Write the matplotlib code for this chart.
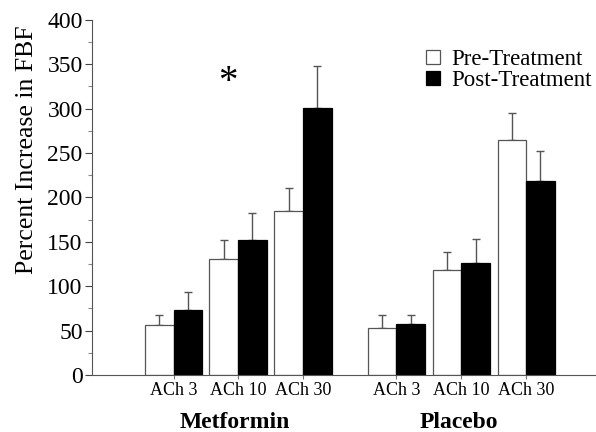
# grouped bar chart: percent increase in FBF, pre vs post treatment
import matplotlib.pyplot as plt
import numpy as np

plt.rcParams['font.family'] = ['Liberation Serif', 'DejaVu Serif']

doses = ['ACh 3', 'ACh 10', 'ACh 30']
groups = ['Metformin', 'Placebo']
pre = np.array([56, 131, 185, 53, 118, 265])
pre_err = np.array([12, 21, 26, 14, 21, 30])
post = np.array([73, 152, 301, 57, 126, 218])
post_err = np.array([21, 30, 47, 11, 27, 34])

# pair centres in bar-width units
centers = np.array([2.84, 5.09, 7.36, 10.62, 12.89, 15.16])
w = 1.0

fig = plt.figure(figsize=(5.96, 4.32), dpi=100)
ax = fig.add_axes([0.155, 0.132, 0.845, 0.822])

ax.bar(centers - w / 2, pre, w, color='white', edgecolor='#555555', linewidth=0.9,
       label='Pre-Treatment', zorder=2)
ax.bar(centers + w / 2, post, w, color='black', edgecolor='black', linewidth=0.9,
       label='Post-Treatment', zorder=2)
ax.errorbar(centers - w / 2, pre, yerr=[np.zeros_like(pre_err), pre_err], fmt='none',
            ecolor='#555555', elinewidth=1, capsize=3, capthick=1, zorder=1)
ax.errorbar(centers + w / 2, post, yerr=[np.zeros_like(post_err), post_err], fmt='none',
            ecolor='#555555', elinewidth=1, capsize=3, capthick=1, zorder=1)

ax.set_xlim(0, 17.6)
ax.set_ylim(0, 400)
ax.set_yticks(np.arange(0, 401, 50))
ax.set_yticks(np.arange(25, 400, 50), minor=True)
ax.tick_params(axis='y', labelsize=17, length=5, width=0.8, colors='#444444', labelcolor='black',
               pad=2)
ax.tick_params(axis='y', which='minor', length=3, width=0.8, colors='#888888')
ax.set_xticks(centers)
ax.set_xticklabels(doses * 2, fontsize=13)
ax.tick_params(axis='x', length=3, width=0.8, colors='#777777', labelcolor='black', pad=2)

for s in ['top', 'right']:
    ax.spines[s].set_visible(False)
ax.spines['left'].set_color('#555555')
ax.spines['bottom'].set_color('#555555')

ax.set_ylabel('Percent Increase in FBF', fontsize=18.5, va='center')
ax.yaxis.set_label_coords(-0.13, 0.635)

for i, g in enumerate(groups):
    ax.text(centers[i * 3 + 1] - 0.1, -53, g, ha='center', va='center',
            fontsize=17, fontweight='bold')

ax.text(4.74, 330, '*', ha='center', va='center', fontsize=28)

ax.legend(loc='upper left', bbox_to_anchor=(0.64, 0.95), frameon=False, fontsize=16.5,
          handlelength=0.6, handleheight=0.6, handletextpad=0.5, labelspacing=0.0,
          borderpad=0)

plt.savefig('out.png', dpi=100)
